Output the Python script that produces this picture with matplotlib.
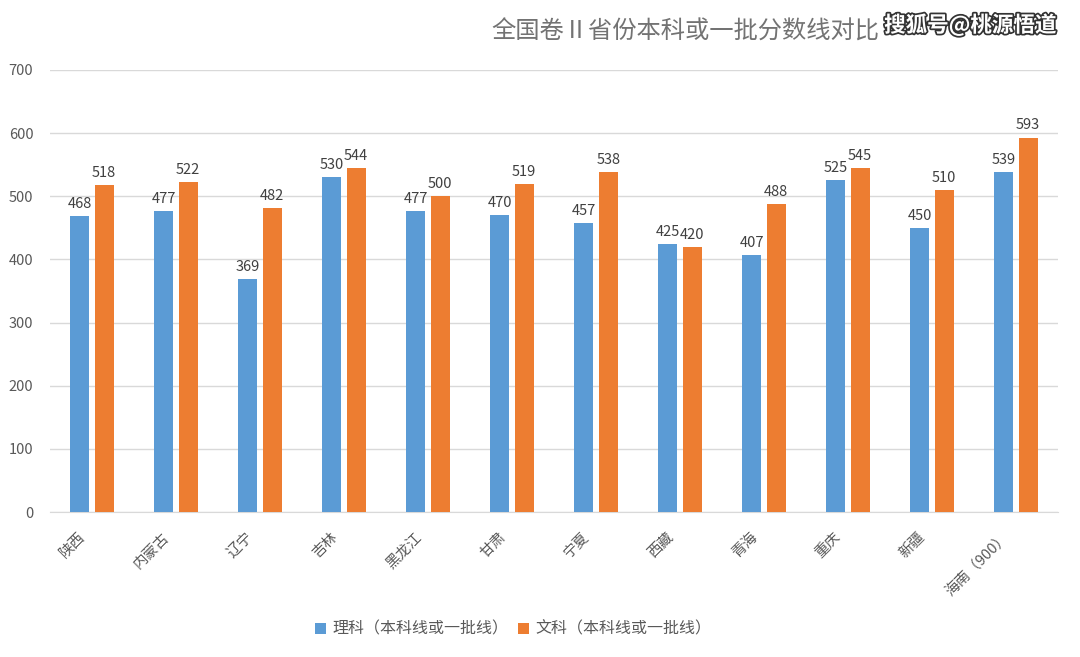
import matplotlib
matplotlib.use("Agg")
from matplotlib import pyplot as plt
import matplotlib.patheffects as pe
import matplotlib.transforms as mtransforms
import numpy as np

plt.rcParams['font.family'] = ['Noto Sans CJK SC', 'DejaVu Sans']

# data
provinces = ["陕西", "内蒙古", "辽宁", "吉林", "黑龙江", "甘肃", "宁夏",
             "西藏", "青海", "重庆", "新疆", "海南（900）"]
science = [468, 477, 369, 530, 477, 470, 457, 425, 407, 525, 450, 539]
arts = [518, 522, 482, 544, 500, 519, 538, 420, 488, 545, 510, 593]
series_names = ["理科（本科线或一批线）", "文科（本科线或一批线）"]
yticks = [0, 100, 200, 300, 400, 500, 600, 700]

blue = "#5B9BD5"
orange = "#ED7D31"
grey_text = "#595959"

fig = plt.figure(figsize=(10.8, 6.57), dpi=100)
ax = fig.add_axes([0.0463, 0.2207, 0.9333, 0.6728])

x = np.arange(len(provinces))
w = 0.225
off = 0.145
b1 = ax.bar(x - off, science, w, color=blue, label=series_names[0], zorder=3)
b2 = ax.bar(x + off, arts, w, color=orange, label=series_names[1], zorder=3)

# value labels above bars
for bars, vals in ((b1, science), (b2, arts)):
    for rect, v in zip(bars, vals):
        ax.text(rect.get_x() + rect.get_width() / 2, v + 8, str(v),
                ha="center", va="bottom", fontsize=10.5, color="#404040")

ax.set_xlim(-0.5, len(provinces) - 0.5)
ax.set_ylim(0, 700)
ax.set_yticks(yticks)
ax.yaxis.grid(True, color="#D9D9D9", linewidth=1, zorder=0)
ax.set_axisbelow(True)
for s in ["top", "right", "left"]:
    ax.spines[s].set_visible(False)
ax.spines["bottom"].set_color("#D9D9D9")
ax.tick_params(axis="both", length=0, colors=grey_text, labelsize=10.5)
ax.tick_params(axis="y", pad=12)

ax.set_xticks(x)
ax.set_xticklabels(provinces, rotation=45, ha="right", va="top",
                   rotation_mode="anchor")
ax.tick_params(axis="x", pad=13)
shift = mtransforms.ScaledTranslation(-14 / 100, 0, fig.dpi_scale_trans)
for lbl in ax.get_xticklabels():
    lbl.set_transform(lbl.get_transform() + shift)

fig.text(0.635, 0.952, "全国卷Ⅱ省份本科或一批分数线对比", ha="center", va="center",
         fontsize=17.5, color="#737373")

# watermark
fig.text(0.978, 0.962, "搜狐号@桃源悟道", ha="right", va="center",
         fontsize=15.5, fontweight="bold", color="white",
         path_effects=[pe.withStroke(linewidth=2.5, foreground="#333333")])

fig.legend(loc="center", bbox_to_anchor=(0.475, 0.042), ncol=2, frameon=False,
           fontsize=11.5, handlelength=0.7, handleheight=0.7,
           handletextpad=0.4, columnspacing=0.6, labelcolor=grey_text)

fig.savefig("out.png", dpi=100)
